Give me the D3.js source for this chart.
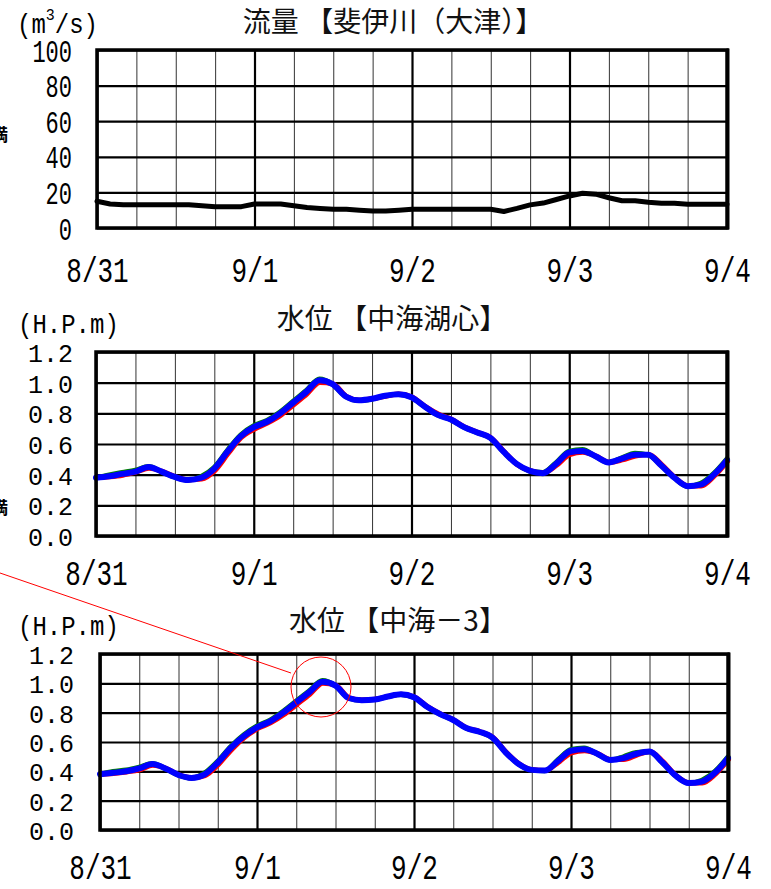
<!DOCTYPE html>
<html>
<head>
<meta charset="utf-8">
<script src="https://cdn.jsdelivr.net/npm/d3@7"></script>
<style>
  body { margin: 0; background: #fff; }
  svg { display: block; }
</style>
</head>
<body>
<div id="chart"></div>
<script>
// time axis: hours since 8/31 00:00, every 2 hours
const hours = [0, 2, 4, 6, 8, 10, 12, 14, 16, 18, 20, 22, 24, 26, 28, 30, 32, 34, 36, 38, 40, 42, 44, 46, 48,
  50, 52, 54, 56, 58, 60, 62, 64, 66, 68, 70, 72, 74, 76, 78, 80, 82, 84, 86, 88, 90, 92, 94, 96];
const dayHours = [0, 24, 48, 72, 96];
const dayLabels = ["8/31", "9/1", "9/2", "9/3", "9/4"];
const gridHours = [0, 6, 12, 18, 24, 30, 36, 42, 48, 54, 60, 66, 72, 78, 84, 90, 96];

const flowTicks = [0, 20, 40, 60, 80, 100];
const levelTicks = [0, 0.2, 0.4, 0.6, 0.8, 1.0, 1.2];

// 斐伊川(大津) flow m3/s
const flowOtsu = [15, 13.5, 13, 13, 13, 13, 13, 13, 12.5, 12, 12, 12, 13.5, 13.5, 13.5, 12.5, 11.5, 11, 10.5, 10.5,
  10, 9.5, 9.5, 10, 10.5, 10.5, 10.5, 10.5, 10.5, 10.5, 10.5, 9.3, 11, 13, 14, 16, 18, 19.5, 19, 17,
  15.3, 15.3, 14.5, 13.9, 13.9, 13.3, 13.3, 13.3, 13.3];

// 中海湖心 water level
const koshinBlue = [0.38, 0.39, 0.405, 0.42, 0.45, 0.42, 0.385, 0.365, 0.38, 0.44, 0.55, 0.65, 0.71, 0.745, 0.80,
  0.87, 0.94, 1.015, 0.99, 0.91, 0.885, 0.895, 0.915, 0.925, 0.905, 0.845, 0.79, 0.76, 0.71, 0.675, 0.64,
  0.55, 0.47, 0.425, 0.41, 0.47, 0.545, 0.555, 0.52, 0.48, 0.505, 0.53, 0.53, 0.46, 0.38, 0.325, 0.335, 0.40, 0.495];
const koshinRed = [0.385, 0.39, 0.40, 0.42, 0.445, 0.425, 0.39, 0.37, 0.375, 0.43, 0.54, 0.645, 0.70, 0.74, 0.79,
  0.86, 0.93, 1.005, 0.995, 0.915, 0.89, 0.90, 0.915, 0.93, 0.91, 0.85, 0.80, 0.765, 0.715, 0.68, 0.645,
  0.555, 0.47, 0.43, 0.415, 0.465, 0.535, 0.55, 0.525, 0.485, 0.50, 0.525, 0.535, 0.47, 0.385, 0.33, 0.33, 0.395, 0.49];
const koshinGreen = [0.375, 0.395, 0.41, 0.425, 0.45, 0.415, 0.38, 0.36, 0.385, 0.445, 0.555, 0.655, 0.715, 0.75, 0.805,
  0.875, 0.945, 1.02, 0.985, 0.905, 0.88, 0.89, 0.91, 0.92, 0.90, 0.84, 0.785, 0.755, 0.705, 0.67, 0.635,
  0.545, 0.465, 0.42, 0.41, 0.475, 0.55, 0.56, 0.515, 0.475, 0.505, 0.535, 0.525, 0.455, 0.375, 0.32, 0.34, 0.405, 0.50];

// 中海-3 water level
const naka3Blue = [0.38, 0.39, 0.40, 0.42, 0.45, 0.42, 0.375, 0.355, 0.38, 0.46, 0.56, 0.64, 0.70, 0.74, 0.80,
  0.87, 0.94, 1.01, 0.985, 0.90, 0.885, 0.89, 0.91, 0.925, 0.905, 0.84, 0.79, 0.75, 0.695, 0.67, 0.63,
  0.53, 0.45, 0.41, 0.405, 0.47, 0.54, 0.55, 0.52, 0.477, 0.49, 0.52, 0.535, 0.46, 0.37, 0.32, 0.33, 0.39, 0.49];
const naka3Red = [0.385, 0.39, 0.40, 0.415, 0.445, 0.425, 0.38, 0.36, 0.375, 0.45, 0.55, 0.635, 0.695, 0.735, 0.79,
  0.86, 0.93, 1.005, 0.99, 0.905, 0.89, 0.895, 0.915, 0.93, 0.91, 0.845, 0.795, 0.755, 0.70, 0.675, 0.635,
  0.535, 0.455, 0.415, 0.41, 0.465, 0.53, 0.545, 0.525, 0.485, 0.485, 0.515, 0.54, 0.47, 0.375, 0.325, 0.325, 0.385, 0.485];
const naka3Green = [0.375, 0.395, 0.405, 0.425, 0.45, 0.415, 0.37, 0.35, 0.385, 0.465, 0.565, 0.645, 0.705, 0.745, 0.805,
  0.875, 0.945, 1.015, 0.98, 0.895, 0.88, 0.885, 0.905, 0.92, 0.90, 0.835, 0.785, 0.745, 0.69, 0.665, 0.625,
  0.525, 0.445, 0.405, 0.40, 0.475, 0.545, 0.555, 0.515, 0.472, 0.495, 0.525, 0.53, 0.455, 0.365, 0.315, 0.335, 0.395, 0.495];

const W = 771, H = 889;
const svg = d3.select("#chart").append("svg").attr("width", W).attr("height", H);

const MONO = "'Liberation Mono', 'DejaVu Sans Mono', monospace";
const CJK = "'Noto Sans CJK JP', 'Noto Sans', sans-serif";

function drawPanel(p) {
  const x = d3.scaleLinear().domain([0, 96]).range([p.left, p.right]);
  const y = d3.scaleLinear().domain(p.yDomain).range([p.bottom, p.top]);
  const g = svg.append("g");
  const h = p.bottom - p.top, w = p.right - p.left;

  // vertical grid (6h thin, day thick)
  g.append("g")
    .attr("transform", `translate(0, ${p.bottom})`)
    .call(d3.axisBottom(x).tickValues(gridHours).tickSize(-h).tickFormat(""))
    .call((a) => a.select(".domain").remove())
    .call((a) => a.selectAll("line")
      .attr("stroke", (d) => (d % 24 === 0 ? "#000" : "#333"))
      .attr("stroke-width", (d) => (d % 24 === 0 ? 2.2 : 1)));

  // horizontal grid + y labels
  g.append("g")
    .attr("transform", `translate(${p.left}, 0)`)
    .call(d3.axisLeft(y).tickValues(p.yTicks).tickSize(-w).tickPadding(p.yPad).tickFormat(p.yFormat))
    .call((a) => a.select(".domain").remove())
    .call((a) => a.selectAll("line").attr("stroke", "#000").attr("stroke-width", 2.2))
    .call((a) => a.selectAll("text")
      .attr("font-family", MONO)
      .attr("font-size", p.yFont)
      .attr("fill", "#000")
      .attr("dy", "0.36em")
      .attr("transform", `scale(1, ${p.yStretch})`));

  // x day labels
  g.append("g")
    .attr("transform", `translate(0, ${p.bottom})`)
    .call(d3.axisBottom(x).tickValues(dayHours).tickSize(0).tickFormat((d, i) => dayLabels[i]))
    .call((a) => a.select(".domain").remove())
    .call((a) => a.selectAll("text")
      .attr("font-family", MONO)
      .attr("font-size", 26)
      .attr("fill", "#000")
      .attr("dy", null)
      .attr("y", p.xLabelOffset / 1.36)
      .attr("transform", "scale(1, 1.36)"));

  // series
  const line = d3.line()
    .x((d, i) => x(hours[i]))
    .y((d) => y(d))
    .curve(p.curve);
  p.series.forEach((s) => {
    g.append("path")
      .datum(s.values)
      .attr("fill", "none")
      .attr("stroke", s.color)
      .attr("stroke-width", s.width)
      .attr("stroke-linejoin", "round")
      .attr("stroke-linecap", "round")
      .attr("transform", s.shift ? `translate(${s.shift[0]}, ${s.shift[1]})` : null)
      .attr("d", line);
  });

  // frame
  g.append("rect")
    .attr("x", p.left).attr("y", p.top)
    .attr("width", w).attr("height", h)
    .attr("fill", "none").attr("stroke", "#000").attr("stroke-width", 3.5);
  g.append("line")
    .attr("x1", p.right + 1).attr("x2", p.right + 1)
    .attr("y1", p.top - 1.5).attr("y2", p.bottom + 1.5)
    .attr("stroke", "#000").attr("stroke-width", 3);

  // title
  g.append("text")
    .attr("x", p.titleX).attr("y", p.titleY)
    .attr("text-anchor", "middle")
    .attr("font-family", CJK)
    .attr("font-size", 28)
    .attr("fill", "#111")
    .text(p.title);

  // unit label
  const u = g.append("text")
    .attr("font-family", MONO)
    .attr("font-size", 24)
    .attr("transform", `translate(${p.unitX}, ${p.unitY}) scale(1, 1.15)`);
  p.unit.forEach((part) => {
    u.append("tspan")
      .attr("font-size", part.sup ? 15 : 24)
      .attr("dy", part.sup ? -11 : (part.after ? 11 : 0))
      .text(part.t);
  });
}

const levelFmt = d3.format(".1f");

drawPanel({
  left: 97, right: 727, top: 50, bottom: 228,
  yDomain: [0, 100], yTicks: flowTicks, yFormat: (d) => d, yPad: 25, yFont: 22, yStretch: 1.4,
  xLabelOffset: 54,
  curve: d3.curveLinear,
  series: [{ values: flowOtsu, color: "#000", width: 5 }],
  title: "流量 【斐伊川（大津）】", titleX: 393, titleY: 32,
  unit: [{ t: "(m" }, { t: "3", sup: true }, { t: "/s)", after: true }], unitX: 17, unitY: 33
});

drawPanel({
  left: 96, right: 727, top: 352, bottom: 536,
  yDomain: [0, 1.2], yTicks: levelTicks, yFormat: levelFmt, yPad: 23, yFont: 25, yStretch: 1.05,
  xLabelOffset: 49,
  curve: d3.curveMonotoneX,
  series: [
    { values: koshinGreen, color: "#008000", width: 5, shift: [0, -0.6] },
    { values: koshinRed, color: "#ff0000", width: 5, shift: [0.5, 0.6] },
    { values: koshinBlue, color: "#0000ff", width: 6 }
  ],
  title: "水位 【中海湖心】", titleX: 392, titleY: 329,
  unit: [{ t: "(H.P.m)" }], unitX: 18, unitY: 333
});

drawPanel({
  left: 100, right: 728, top: 654, bottom: 830,
  yDomain: [0, 1.2], yTicks: levelTicks, yFormat: levelFmt, yPad: 26, yFont: 25, yStretch: 1.05,
  xLabelOffset: 49,
  curve: d3.curveMonotoneX,
  series: [
    { values: naka3Green, color: "#008000", width: 5, shift: [0, -0.6] },
    { values: naka3Red, color: "#ff0000", width: 5, shift: [0.5, 0.6] },
    { values: naka3Blue, color: "#0000ff", width: 6 }
  ],
  title: "水位 【中海－3】", titleX: 398, titleY: 631,
  unit: [{ t: "(H.P.m)" }], unitX: 18, unitY: 635
});

// clipped marks at the left edge
[141, 514].forEach((yy) => {
  svg.append("text")
    .attr("x", -9).attr("y", yy)
    .attr("font-family", CJK).attr("font-size", 17).attr("font-weight", "bold")
    .text("満");
});

// red call-out on the 中海-3 peak
svg.append("line")
  .attr("x1", 0).attr("y1", 573).attr("x2", 291).attr("y2", 673)
  .attr("stroke", "#ff0000").attr("stroke-width", 1);
svg.append("circle")
  .attr("cx", 321).attr("cy", 687).attr("r", 30)
  .attr("fill", "none").attr("stroke", "#ff0000").attr("stroke-width", 1);
</script>
</body>
</html>
